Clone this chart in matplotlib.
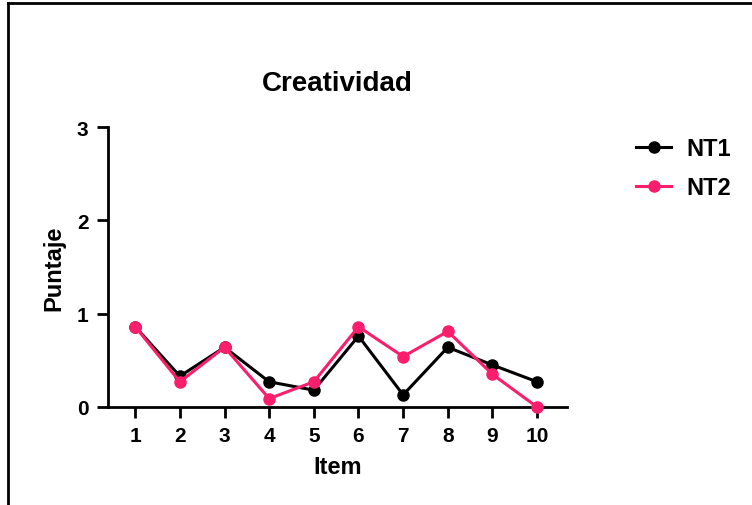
import matplotlib
matplotlib.use("Agg")
import matplotlib.pyplot as plt
from matplotlib.lines import Line2D

plt.rcParams['font.family'] = ['Liberation Sans', 'DejaVu Sans']
plt.rcParams['font.weight'] = 'bold'

items = [1, 2, 3, 4, 5, 6, 7, 8, 9, 10]
nt1 = [0.86, 0.33, 0.64, 0.27, 0.18, 0.76, 0.13, 0.64, 0.45, 0.27]
nt2 = [0.86, 0.27, 0.64, 0.09, 0.27, 0.86, 0.54, 0.81, 0.35, 0.00]
pink = '#fa1e6c'

fig = plt.figure(figsize=(7.52, 5.06), dpi=100)
ax = fig.add_axes([0.1436, 0.1937, 0.6104, 0.5533])

ax.plot(items, nt1, '-o', color='black', lw=2.2, ms=8, label='NT1', clip_on=False, zorder=3)
ax.plot(items, nt2, '-o', color=pink, lw=2.2, ms=8, label='NT2', clip_on=False, zorder=4)

ax.set_xlim(0.39, 10.67)
ax.set_ylim(0, 3)
ax.set_xticks(items)
ax.set_yticks([0, 1, 2, 3])
for s in ['top', 'right']:
    ax.spines[s].set_visible(False)
for s in ['left', 'bottom']:
    ax.spines[s].set_linewidth(2)
ax.tick_params(width=2, length=8, labelsize=15, pad=6)
for lab in ax.get_xticklabels() + ax.get_yticklabels():
    lab.set_fontweight('bold')

ax.set_title('Creatividad', fontsize=20, fontweight='bold', pad=27)
ax.set_xlabel('Item', fontsize=17, fontweight='bold', labelpad=7)
ax.set_ylabel('Puntaje', fontsize=17, fontweight='bold', labelpad=8)

fig.legend(*ax.get_legend_handles_labels(), loc='upper left',
           bbox_to_anchor=(636 / 752, 1 - 138 / 506), frameon=False,
           fontsize=17, handlelength=1.5, labelspacing=0.68, handletextpad=0.65,
           borderpad=0, borderaxespad=0)

# outer frame (left and top edges)
fig.add_artist(Line2D([0.011, 0.011], [0, 0.992], color='black', lw=2, transform=fig.transFigure))
fig.add_artist(Line2D([0.011, 1.0], [0.992, 0.992], color='black', lw=2, transform=fig.transFigure))

fig.savefig('out.png', dpi=100)
